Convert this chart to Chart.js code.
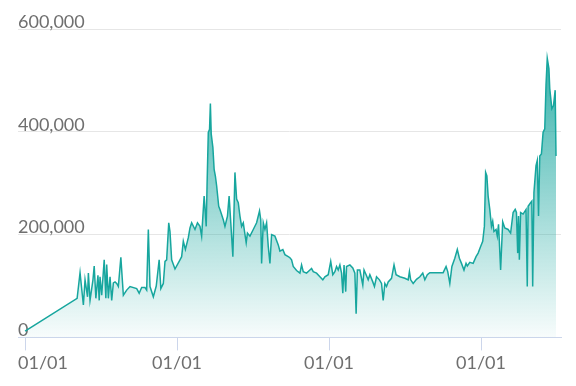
<!DOCTYPE html>
<html>
<head>
<meta charset="utf-8">
<script src="https://cdn.jsdelivr.net/npm/chart.js@4.4.1/dist/chart.umd.min.js"></script>
<style>
  html, body { margin: 0; padding: 0; background: #ffffff; }
  #wrap { width: 576px; height: 386px; position: relative; }
</style>
</head>
<body>
<div id="wrap"><canvas id="priceChart"></canvas></div>
<script>
// days since the first 01/01 tick
const dayOffsets = [
    0, 125, 132, 140, 144, 150, 152, 156, 163, 166, 170, 175, 178, 180, 184, 190, 194, 196, 200, 204,
    208, 212, 216, 220, 224, 230, 236, 244, 252, 268, 274, 280, 288, 292, 296, 300, 308, 315, 322, 326,
    332, 336, 340, 345, 348, 352, 360, 372, 376, 380, 385, 392, 396, 400, 408, 414, 420, 424, 430, 435,
    437, 440, 443, 445, 447, 451, 454, 457, 460, 465, 468, 476, 480, 486, 490, 494, 499, 504, 508, 512,
    516, 520, 524, 531, 534, 540, 548, 556, 563, 566, 568, 572, 576, 580, 584, 588, 592, 600, 608, 612,
    619, 624, 632, 636, 640, 644, 652, 660, 664, 668, 676, 684, 688, 692, 700, 708, 715, 720, 728, 734,
    739, 744, 748, 752, 756, 760, 763, 766, 770, 772, 780, 787, 792, 795, 798, 804, 811, 814, 819, 824,
    828, 835, 839, 844, 851, 856, 860, 864, 868, 872, 880, 886, 891, 900, 912, 920, 923, 926, 932, 940,
    948, 955, 960, 966, 972, 988, 1004, 1011, 1015, 1020, 1025, 1032, 1038, 1043, 1048, 1054, 1059, 1062, 1068, 1076,
    1083, 1088, 1094, 1099, 1103, 1106, 1109, 1112, 1116, 1120, 1123, 1126, 1131, 1134, 1137, 1142, 1147, 1152, 1160, 1166,
    1172, 1177, 1180, 1183, 1185, 1187, 1190, 1196, 1203, 1206, 1208, 1214, 1217, 1219, 1222, 1227, 1230, 1233, 1236, 1240,
    1244, 1248, 1251, 1254, 1258, 1260, 1265, 1269, 1273, 1275
];

// values in thousands
const pricesK = [
    12, 76, 126, 63, 112, 79, 125, 72, 112, 139, 76, 121, 72, 118, 82, 151, 76, 142, 76, 118,
    72, 106, 108, 105, 99, 156, 82, 92, 99, 95, 86, 97, 97, 92, 210, 99, 79, 100, 151, 95,
    105, 148, 151, 223, 206, 151, 133, 151, 157, 187, 171, 194, 213, 223, 210, 223, 216, 197, 275, 216,
    295, 399, 405, 455, 396, 370, 327, 314, 295, 255, 249, 229, 216, 236, 275, 223, 157, 321, 269, 262,
    236, 216, 223, 184, 203, 197, 210, 223, 246, 229, 144, 223, 210, 223, 177, 144, 200, 197, 180, 168,
    171, 161, 157, 155, 151, 138, 130, 125, 141, 128, 125, 131, 134, 128, 125, 118, 112, 118, 122, 148,
    122, 128, 138, 131, 141, 125, 86, 141, 89, 138, 141, 135, 125, 46, 131, 131, 102, 131, 122, 112,
    122, 108, 99, 118, 112, 105, 72, 105, 99, 108, 115, 141, 122, 118, 115, 112, 128, 112, 105, 113,
    118, 125, 112, 122, 126, 126, 126, 138, 128, 105, 138, 154, 171, 154, 144, 131, 144, 139, 146, 144,
    157, 164, 177, 187, 216, 321, 314, 275, 249, 216, 226, 206, 210, 197, 220, 131, 225, 213, 210, 203,
    243, 249, 243, 164, 236, 151, 243, 240, 249, 99, 255, 262, 265, 99, 282, 334, 344, 236, 353, 357,
    399, 406, 491, 543, 523, 484, 445, 451, 481, 353
];

const xMin = -17;
const xMax = 1287;
const yearTicks = [0, 365, 730, 1095];
const yTicks = [0, 200000, 400000, 600000];

const points = dayOffsets.map((d, i) => ({ x: d, y: pricesK[i] * 1000 }));

const labelFont = { family: 'Lato', size: 18 };
const labelColor = '#6f6f6f';
const teal = 'rgb(23, 166, 158)';

function areaGradient(context) {
    const chart = context.chart;
    const area = chart.chartArea;
    if (!area) return 'rgba(23, 166, 158, 0.4)';
    const g = chart.ctx.createLinearGradient(0, area.top, 0, area.bottom);
    g.addColorStop(0, 'rgba(23, 166, 158, 0.95)');
    g.addColorStop(1, 'rgba(23, 166, 158, 0.03)');
    return g;
}

// the first label is pushed inside the plot (left edge on the plot edge),
// so an unmarked tick at xMin carries it, and an unmarked one at xMax keeps the rest centred
function isYearTick(value) {
    return yearTicks.includes(value);
}

new Chart(document.getElementById('priceChart').getContext('2d'), {
    type: 'line',
    data: {
        datasets: [{
            data: points,
            borderColor: teal,
            borderWidth: 1.5,
            backgroundColor: areaGradient,
            fill: 'origin',
            pointRadius: 0,
            tension: 0
        }]
    },
    options: {
        responsive: true,
        maintainAspectRatio: false,
        animation: false,
        layout: { padding: { left: 18, right: 15, top: 29, bottom: 10 } },
        plugins: {
            legend: { display: false },
            tooltip: { enabled: false }
        },
        scales: {
            x: {
                type: 'linear',
                min: xMin,
                max: xMax,
                afterBuildTicks: axis => {
                    axis.ticks = [xMin, ...yearTicks, xMax].map(v => ({ value: v }));
                },
                grid: {
                    drawOnChartArea: false,
                    drawTicks: true,
                    tickLength: 13,
                    color: ctx => (ctx.tick && isYearTick(ctx.tick.value)) ? '#ccd6eb' : 'rgba(0,0,0,0)'
                },
                border: { color: '#ccd6eb', width: 1 },
                ticks: {
                    autoSkip: false,
                    maxRotation: 0,
                    align: 'inner',
                    padding: 2,
                    color: labelColor,
                    font: labelFont,
                    callback: value => (value === xMin ? '01/01' : (value === 0 || value === xMax ? '' : '01/01'))
                }
            },
            y: {
                min: 0,
                max: 600000,
                afterBuildTicks: axis => {
                    axis.ticks = yTicks.map(v => ({ value: v }));
                },
                grid: {
                    color: '#e6e6e6',
                    drawTicks: false
                },
                border: { display: false },
                ticks: {
                    mirror: true,
                    padding: 0,
                    labelOffset: -7,
                    color: labelColor,
                    font: labelFont,
                    callback: value => value.toLocaleString('en-US')
                }
            }
        }
    }
});
</script>
</body>
</html>
